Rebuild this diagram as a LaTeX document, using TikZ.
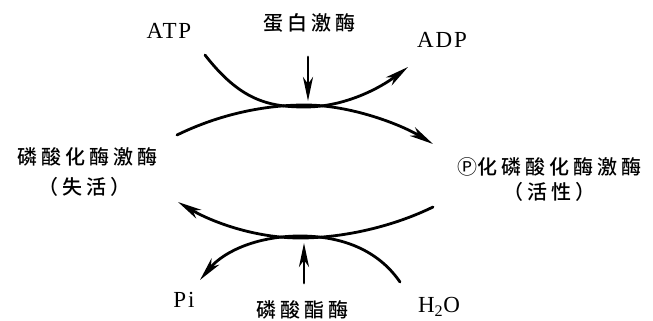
\documentclass[tikz,border=0pt]{standalone}
\usepackage{fontspec}
\setmainfont{Liberation Serif}[LetterSpace=8]
\newfontfamily\cjk[LetterSpace=20,UprightFont=* Medium]{Noto Sans CJK SC}
\newfontfamily\circfont{Noto Sans CJK SC}
\usetikzlibrary{arrows.meta}

\tikzset{
  flow/.style={line width=2.8pt,line cap=round},
  tip/.style={-{Stealth[length=24pt,width=10pt,inset=7pt]}},
  zh/.style={font=\cjk\fontsize{20}{24}\selectfont,inner sep=0pt},
  en/.style={font=\fontsize{23}{26}\selectfont,inner sep=0pt},
}

\begin{document}
\begin{tikzpicture}[x=1pt,y=-1pt]
    \useasboundingbox (0,0) rectangle (653,321);

    % Labels
    \node[en] (atp) at (169,31) {ATP};
    \node[zh] (kinase) at (309,23) {蛋白激酶};
    \node[en] (adp) at (442,40) {ADP};
    \node[zh] (inactive) at (87,157) {磷酸化酶激酶};
    \node[zh] (inactivenote) at (84,187) {（失活）};
    \node[zh] (active) at (549,167) {{\circfont Ⓟ}化磷酸化酶激酶};
    \node[zh] (activenote) at (549,192) {（活性）};
    \node[en] (pi) at (184,300) {Pi};
    \node[zh] (phosphatase) at (302,310) {磷酸酯酶};
    \node[en] (water) at (439,307) {H\textsubscript{2}O};

    % Curve ends
    \coordinate (atpin) at (205,55);
    \coordinate (adpout) at (408,67);
    \coordinate (topin) at (177,135);
    \coordinate (topout) at (433,144);
    \coordinate (kinstart) at (308,57);
    \coordinate (kinend) at (308,101);
    \coordinate (botin) at (433,207);
    \coordinate (botout) at (178,202);
    \coordinate (waterin) at (400,282);
    \coordinate (piout) at (200,280);
    \coordinate (phstart) at (304,283);
    \coordinate (phend) at (304,243);

    % Kinase step (top)
    \draw[flow,tip] (atpin) .. controls (240,100) and (268,107) .. (305,107)
                            .. controls (345,107) and (380,88) .. (adpout);
    \draw[flow,tip] (topin) .. controls (220,114) and (265,105) .. (305,105)
                            .. controls (350,105) and (400,124) .. (topout);
    \draw[flow,tip] (kinstart) -- (kinend);

    % Phosphatase step (bottom)
    \draw[flow,tip] (botin) .. controls (390,228) and (340,238) .. (300,238)
                            .. controls (255,238) and (212,222) .. (botout);
    \draw[flow,tip] (waterin) .. controls (378,250) and (342,236) .. (300,236)
                              .. controls (260,236) and (225,250) .. (piout);
    \draw[flow,tip] (phstart) -- (phend);
\end{tikzpicture}
\end{document}
